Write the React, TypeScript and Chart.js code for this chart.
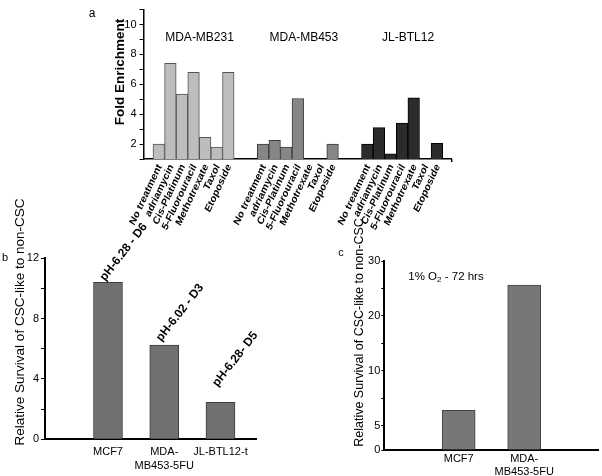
import React, { useEffect, useRef } from 'react';
import { Chart, registerables, LinearScale } from 'chart.js';

Chart.register(...registerables);

const FONT = "'Liberation Sans', Arial, Helvetica, sans-serif";
Chart.defaults.font.family = FONT;
Chart.defaults.color = '#000';

// ---------------- Data ----------------
// Panel a
const treatments = ['No treatment', 'adriamycin', 'Cis-Platinum', '5-Fluorouracil', 'Methotrexate', 'Taxol', 'Etoposide'];
const cellLinesA = ['MDA-MB231', 'MDA-MB453', 'JL-BTL12'];
const foldMB231: (number | null)[] = [2.0, 7.4, 5.35, 6.8, 2.45, 1.8, 6.8];
const foldMB453: (number | null)[] = [2.0, 2.25, 1.8, 5.05, null, null, 2.0];
const foldJLBTL12: (number | null)[] = [2.0, 3.1, 1.35, 3.4, 5.1, null, 2.05];
const foldTickLabels = [2, 4, 6, 8, 10];

// Panel b
const cellLinesB: (string | string[])[] = ['MCF7', ['MDA-', 'MB453-5FU'], 'JL-BTL12-t'];
const survivalB = [10.4, 6.25, 2.45];
const phLabelsB = ['pH-6.28 - D6', 'pH-6.02 - D3', 'pH-6.28- D5'];
const tickLabelsB = [0, 4, 8, 12];

// Panel c
const cellLinesC: (string | string[])[] = ['MCF7', ['MDA-', 'MB453-5FU']];
const survivalC = [6.4, 25.6];
const tickLabelsC = [0, 5, 10, 20, 30];
const minorTicksC = [7.5, 15, 25];
const conditionC = ['1% O', '2', ' - 72 hrs'];
const yTitle = 'Relative Survival of CSC-like to non-CSC';

// ---------------- Styles ----------------
const groupFill = ['#bdbdbd', '#868686', '#2b2b2b'];
const groupEdge = ['#555555', '#3a3a3a', '#000000'];
const gapSlots = 2;
const phLift = [1, 3, 15];
const labelAngleA = 65;
const labelSquishA = 0.85;

// Broken axis used by panel c (0-5 compressed, 5..30 regular)
const brokenStops = [0, 5, 10, 20, 30];
const brokenFractions = [0, 0.1286, 0.4196, 0.7106, 1];
function toFrac(v: number) {
  if (v <= brokenStops[0]) return brokenFractions[0];
  for (let i = 1; i < brokenStops.length; i++) {
    if (v <= brokenStops[i]) {
      const t = (v - brokenStops[i - 1]) / (brokenStops[i] - brokenStops[i - 1]);
      return brokenFractions[i - 1] + t * (brokenFractions[i] - brokenFractions[i - 1]);
    }
  }
  const n = brokenStops.length - 1;
  const slope = (brokenFractions[n] - brokenFractions[n - 1]) / (brokenStops[n] - brokenStops[n - 1]);
  return brokenFractions[n] + (v - brokenStops[n]) * slope;
}
function fromFrac(f: number) {
  for (let i = 1; i < brokenFractions.length; i++) {
    if (f <= brokenFractions[i]) {
      const t = (f - brokenFractions[i - 1]) / (brokenFractions[i] - brokenFractions[i - 1]);
      return brokenStops[i - 1] + t * (brokenStops[i] - brokenStops[i - 1]);
    }
  }
  return brokenStops[brokenStops.length - 1];
}

class BrokenLinearScale extends LinearScale {
  static id = 'brokenLinear';
  static defaults = LinearScale.defaults;
  getPixelForValue(value: any) {
    if (value === null || value === undefined || isNaN(value)) return NaN;
    return this.getPixelForDecimal(toFrac(value));
  }
  getValueForPixel(pixel: number) {
    return fromFrac(this.getDecimalForPixel(pixel));
  }
}
Chart.register(BrokenLinearScale as any);

// ---------------- Panel a ----------------
function configA() {
  const perGroup = treatments.length + gapSlots;
  const series = [foldMB231, foldMB453, foldJLBTL12];
  const points: { x: number; y: number }[] = [];
  const fills: string[] = [];
  const edges: string[] = [];
  const slotLabels: Record<number, string> = {};
  series.forEach((vals, g) =>
    vals.forEach((v, t) => {
      const slot = g * perGroup + t;
      slotLabels[slot] = treatments[t];
      if (v !== null) {
        points.push({ x: slot, y: v });
        fills.push(groupFill[g]);
        edges.push(groupEdge[g]);
      }
    })
  );
  const tickSlots = Object.keys(slotLabels).map(Number);
  // rotation before horizontal squish so that the final angle is labelAngleA
  const innerAngle = Math.atan(Math.tan((labelAngleA * Math.PI) / 180) * labelSquishA);

  const textPlugin = {
    id: 'panelAText',
    afterDraw(chart: any) {
      const ctx = chart.ctx;
      const xs = chart.scales.x;
      const area = chart.chartArea;
      ctx.save();
      ctx.fillStyle = '#000';
      ctx.font = `12px ${FONT}`;
      ctx.textAlign = 'center';
      ctx.textBaseline = 'middle';
      cellLinesA.forEach((name, g) => {
        const cx = xs.getPixelForValue(g * perGroup + (treatments.length - 1) / 2);
        ctx.fillText(name, cx + 6, 38);
      });
      // rotated category labels
      ctx.font = `bold 11px ${FONT}`;
      ctx.textAlign = 'right';
      ctx.textBaseline = 'middle';
      tickSlots.forEach((slot) => {
        const px = xs.getPixelForValue(slot);
        ctx.save();
        ctx.translate(px + 1, area.bottom + 6);
        ctx.scale(labelSquishA, 1);
        ctx.rotate(-innerAngle);
        ctx.fillText(slotLabels[slot], 0, 0);
        ctx.restore();
      });
      // small end tick on the x axis
      ctx.strokeStyle = '#000';
      ctx.lineWidth = 1.5;
      ctx.beginPath();
      ctx.moveTo(area.right, area.bottom);
      ctx.lineTo(area.right, area.bottom + 3);
      ctx.stroke();
      ctx.textAlign = 'center';
      ctx.font = `12px ${FONT}`;
      ctx.fillText('a', 12, 14);
      ctx.translate(40, 72);
      ctx.rotate(-Math.PI / 2);
      ctx.font = `bold 13.5px ${FONT}`;
      ctx.fillText('Fold Enrichment', 0, 0);
      ctx.restore();
    },
  };

  return {
    type: 'bar',
    data: {
      datasets: [
        {
          data: points,
          backgroundColor: fills,
          borderColor: edges,
          borderWidth: 1,
          barPercentage: 1,
          categoryPercentage: 1,
        },
      ],
    },
    options: {
      responsive: false,
      animation: false,
      events: [],
      layout: { padding: { left: 0, right: 8.3, top: 1.55, bottom: 0 } },
      plugins: { legend: { display: false }, tooltip: { enabled: false } },
      scales: {
        x: {
          type: 'linear',
          min: -1.32,
          max: 25.28,
          bounds: 'data',
          offset: false,
          afterBuildTicks: (s: any) => {
            s.ticks = tickSlots.map((v) => ({ value: v }));
          },
          afterFit: (s: any) => {
            s.height = 95.95;
            s.paddingLeft = 0;
            s.paddingRight = 0;
          },
          grid: { display: false },
          border: { display: true, color: '#000', width: 1.5 },
          ticks: { display: false },
        },
        y: {
          type: 'linear',
          min: 1,
          max: 11,
          afterFit: (s: any) => {
            s.width = 63.5;
          },
          grid: { drawOnChartArea: false, color: '#000', tickLength: 4, lineWidth: 1 },
          border: { color: '#000', width: 1.5 },
          ticks: {
            stepSize: 1,
            autoSkip: false,
            padding: 3,
            color: '#000',
            font: { size: 11 },
            callback: (v: any) => (foldTickLabels.includes(v) ? String(v) : ''),
          },
        },
      },
    },
    plugins: [textPlugin],
  };
}

// ---------------- Panel b ----------------
function configB() {
  const textPlugin = {
    id: 'panelBText',
    afterDatasetsDraw(chart: any) {
      const ctx = chart.ctx;
      const meta = chart.getDatasetMeta(0);
      ctx.save();
      ctx.fillStyle = '#000';
      ctx.font = `bold 12px ${FONT}`;
      ctx.textAlign = 'left';
      ctx.textBaseline = 'alphabetic';
      meta.data.forEach((bar: any, i: number) => {
        ctx.save();
        ctx.translate(bar.x - 3, bar.y - phLift[i]);
        ctx.rotate((-52 * Math.PI) / 180);
        ctx.fillText(phLabelsB[i], 0, 0);
        ctx.restore();
      });
      ctx.restore();
    },
    afterDraw(chart: any) {
      const ctx = chart.ctx;
      ctx.save();
      ctx.fillStyle = '#000';
      ctx.textAlign = 'center';
      ctx.textBaseline = 'middle';
      ctx.font = `11px ${FONT}`;
      ctx.fillText('b', 5, 83);
      ctx.translate(20, 147);
      ctx.rotate(-Math.PI / 2);
      ctx.font = `13.5px ${FONT}`;
      ctx.fillText(yTitle, 0, 0);
      ctx.restore();
    },
  };
  return {
    type: 'bar',
    data: {
      datasets: [
        {
          data: survivalB.map((v, i) => ({ x: i + 1, y: v })),
          backgroundColor: '#707070',
          borderColor: '#3c3c3c',
          borderWidth: 1,
          barThickness: 29,
        },
      ],
    },
    options: {
      responsive: false,
      animation: false,
      events: [],
      layout: { padding: { left: 0, right: 10, top: 83.3, bottom: 0 } },
      plugins: { legend: { display: false }, tooltip: { enabled: false } },
      scales: {
        x: {
          type: 'linear',
          min: -0.12,
          max: 4.236,
          bounds: 'data',
          offset: false,
          afterBuildTicks: (s: any) => {
            s.ticks = cellLinesB.map((_, i) => ({ value: i + 1 }));
          },
          afterFit: (s: any) => {
            s.height = 36.7;
            s.paddingLeft = 0;
            s.paddingRight = 0;
          },
          grid: { display: false },
          border: { color: '#000', width: 2 },
          ticks: {
            autoSkip: false,
            minRotation: 0,
            maxRotation: 0,
            padding: -2,
            color: '#000',
            font: { size: 11, lineHeight: 1.25 },
            callback: (v: any) => cellLinesB[Math.round(v) - 1] ?? '',
          },
        },
        y: {
          type: 'linear',
          min: 0,
          max: 12,
          afterFit: (s: any) => {
            s.width = 45;
          },
          grid: { drawOnChartArea: false, color: '#000', tickLength: 4 },
          border: { color: '#000', width: 2 },
          ticks: {
            stepSize: 2,
            autoSkip: false,
            padding: 2,
            color: '#000',
            font: { size: 11 },
            callback: (v: any) => (tickLabelsB.includes(v) ? String(v) : ''),
          },
        },
      },
    },
    plugins: [textPlugin],
  };
}

// ---------------- Panel c ----------------
function configC() {
  const textPlugin = {
    id: 'panelCText',
    afterDraw(chart: any) {
      const ctx = chart.ctx;
      const area = chart.chartArea;
      ctx.save();
      ctx.fillStyle = '#000';
      ctx.textAlign = 'center';
      ctx.textBaseline = 'middle';
      ctx.font = `11px ${FONT}`;
      ctx.fillText('c', 41, 78);
      // condition text
      ctx.textAlign = 'left';
      let x = area.left + 24;
      const y = area.top + 16;
      ctx.font = `11.5px ${FONT}`;
      ctx.fillText(conditionC[0], x, y);
      x += ctx.measureText(conditionC[0]).width;
      ctx.font = `8px ${FONT}`;
      ctx.fillText(conditionC[1], x, y + 3);
      x += ctx.measureText(conditionC[1]).width;
      ctx.font = `11.5px ${FONT}`;
      ctx.fillText(conditionC[2], x, y);
      // y title
      ctx.textAlign = 'center';
      ctx.translate(60, 157.5);
      ctx.rotate(-Math.PI / 2);
      ctx.font = `12.5px ${FONT}`;
      ctx.fillText(yTitle, 0, 0);
      ctx.restore();
    },
  };
  const allTicks = [...tickLabelsC, ...minorTicksC].sort((a, b) => a - b);
  return {
    type: 'bar',
    data: {
      datasets: [
        {
          data: survivalC.map((v, i) => ({ x: i + 1, y: v })),
          backgroundColor: '#777777',
          borderColor: '#444444',
          borderWidth: 1,
          barThickness: 33,
        },
      ],
    },
    options: {
      responsive: false,
      animation: false,
      events: [],
      layout: { padding: { left: 0, right: 4, top: 86, bottom: 0 } },
      plugins: { legend: { display: false }, tooltip: { enabled: false } },
      scales: {
        x: {
          type: 'linear',
          min: -0.136,
          max: 3.127,
          bounds: 'data',
          offset: false,
          afterBuildTicks: (s: any) => {
            s.ticks = cellLinesC.map((_, i) => ({ value: i + 1 }));
          },
          afterFit: (s: any) => {
            s.height = 26;
            s.paddingLeft = 0;
            s.paddingRight = 0;
          },
          grid: { display: false },
          border: { color: '#000', width: 2 },
          ticks: {
            autoSkip: false,
            minRotation: 0,
            maxRotation: 0,
            padding: -6,
            color: '#000',
            font: { size: 11, lineHeight: 1.2 },
            callback: (v: any) => cellLinesC[Math.round(v) - 1] ?? '',
          },
        },
        y: {
          type: 'brokenLinear',
          min: 0,
          max: 30,
          bounds: 'data',
          afterBuildTicks: (s: any) => {
            s.ticks = allTicks.map((v) => ({ value: v }));
          },
          afterFit: (s: any) => {
            s.width = 84.3;
          },
          grid: { drawOnChartArea: false, color: '#000', tickLength: 3 },
          border: { color: '#000', width: 2 },
          ticks: {
            autoSkip: false,
            padding: 1,
            color: '#000',
            font: { size: 11 },
            callback: (v: any) => (tickLabelsC.includes(v) ? String(v) : ''),
          },
        },
      },
    },
    plugins: [textPlugin],
  };
}

function ChartBox(props: {
  make: () => any;
  left: number;
  top: number;
  width: number;
  height: number;
  clipWidth?: number;
}) {
  const ref = useRef<HTMLCanvasElement>(null);
  useEffect(() => {
    const chart = new Chart(ref.current as HTMLCanvasElement, props.make());
    return () => chart.destroy();
  }, []);
  return (
    <div
      style={{
        position: 'absolute',
        left: props.left,
        top: props.top,
        width: props.clipWidth ?? props.width,
        height: props.height,
        overflow: 'hidden',
      }}
    >
      <canvas
        ref={ref}
        width={props.width}
        height={props.height}
        style={{ width: props.width, height: props.height, display: 'block' }}
      />
    </div>
  );
}

export default function App() {
  return (
    <div
      style={{
        position: 'absolute',
        left: 0,
        top: 0,
        width: 602,
        height: 476,
        background: '#fff',
        overflow: 'hidden',
      }}
    >
      <ChartBox make={configA} left={80} top={0} width={380} height={255} />
      <ChartBox make={configB} left={0} top={175} width={300} height={301} clipWidth={257} />
      <ChartBox make={configC} left={300} top={175} width={302} height={301} />
    </div>
  );
}
